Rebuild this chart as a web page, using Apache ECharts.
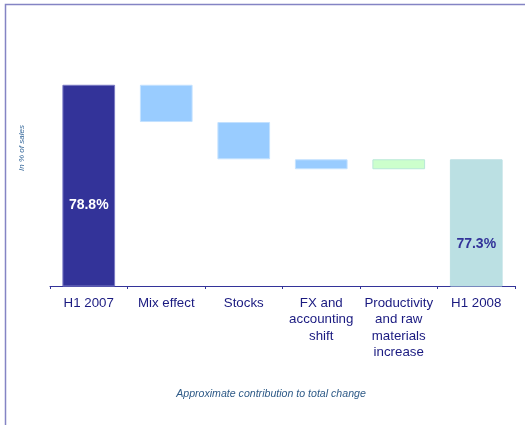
<!DOCTYPE html>
<html>
<head>
<meta charset="utf-8">
<script src="https://cdn.jsdelivr.net/npm/echarts@6/dist/echarts.min.js"></script>
<style>
    html, body { margin: 0; padding: 0; background: #fff; }
    #chart { width: 525px; height: 425px; }
</style>
</head>
<body>
<div id="chart"></div>
<script>
    // data
    var categories = ['H1 2007', 'Mix effect', 'Stocks', 'FX and\naccounting\nshift', 'Productivity\nand raw\nmaterials\nincrease', 'H1 2008'];
    var startValue = 78.8;
    var changes = [-0.75, -0.75, -0.2, 0.2];
    var endValue = 77.3;

    var barColors = ['#333399', '#99ccff', '#99ccff', '#99ccff', '#ccffcc', '#bbe0e3'];
    var borderColors = ['#7b7bc4', '#c4e2ff', '#c4e2ff', '#c4e2ff', '#b8e8d8', '#bbe0e3'];

    // waterfall: invisible base + visible piece
    var base = [0], pieces = [startValue], running = startValue;
    changes.forEach(function (c) {
        base.push(c < 0 ? running + c : running);
        pieces.push(Math.abs(c));
        running += c;
    });
    base.push(0);
    pieces.push(endValue);

    var chart = echarts.init(document.getElementById('chart'));

    var pieceData = pieces.map(function (v, i) {
        var item = {
            value: v,
            itemStyle: { color: barColors[i], borderColor: borderColors[i], borderWidth: 1 }
        };
        if (i === 0 || i === pieces.length - 1) {
            item.label = {
                show: true,
                position: 'inside',
                offset: [0, i === 0 ? 20 : 21],
                formatter: v.toFixed(1) + '%',
                color: i === 0 ? '#ffffff' : '#333399',
                fontFamily: 'Liberation Sans',
                fontWeight: 'bold',
                fontSize: 14
            };
        }
        return item;
    });

    var opt = {
        animation: false,
        grid: { left: 50, right: 10, top: 50, bottom: 139 },
        xAxis: {
            type: 'category',
            data: categories,
            axisLine: { lineStyle: { color: '#333399', width: 1 } },
            axisTick: { show: true, length: 3, lineStyle: { color: '#333399' } },
            axisLabel: {
                color: '#1a1a80',
                fontFamily: 'Liberation Sans',
                fontSize: 13.3,
                lineHeight: 16.5,
                margin: 9,
                interval: 0
            }
        },
        yAxis: {
            type: 'value',
            min: 74.75,
            max: 79.5,
            axisLine: { show: false },
            axisTick: { show: false },
            axisLabel: { show: false },
            splitLine: { show: false }
        },
        series: [
            {
                name: 'base',
                type: 'bar',
                stack: 'w',
                barCategoryGap: '32%',
                itemStyle: { color: 'transparent' },
                emphasis: { disabled: true },
                data: base
            },
            {
                name: 'value',
                type: 'bar',
                stack: 'w',
                barCategoryGap: '32%',
                clip: true,
                data: pieceData
            }
        ],
        graphic: [
            {
                type: 'rect',
                shape: { x: 5.5, y: 4.5, width: 540, height: 440 },
                style: { fill: 'none', stroke: '#8484c4', lineWidth: 1.5 },
                silent: true
            },
            {
                type: 'text',
                x: 22,
                y: 148,
                rotation: Math.PI / 2,
                style: {
                    text: 'In % of sales',
                    fill: '#336699',
                    font: 'italic 8px "Liberation Sans"',
                    align: 'center',
                    verticalAlign: 'middle'
                }
            },
            {
                type: 'text',
                x: 271,
                y: 394,
                style: {
                    text: 'Approximate contribution to total change',
                    fill: '#2e5a87',
                    font: 'italic 10.6px "Liberation Sans"',
                    align: 'center',
                    verticalAlign: 'middle'
                }
            }
        ]
    };
    chart.setOption(opt, true);
</script>
</body>
</html>
